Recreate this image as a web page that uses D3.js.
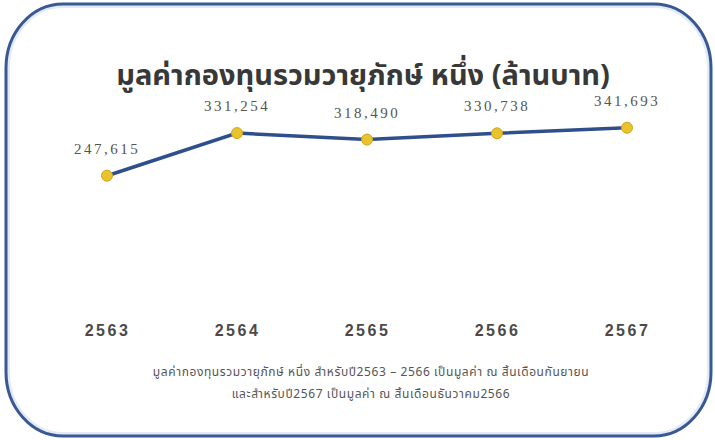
<!DOCTYPE html>
<html>
<head>
<meta charset="utf-8">
<script src="https://cdn.jsdelivr.net/npm/d3@7"></script>
<style>
  body { margin: 0; background: #fff; }
</style>
</head>
<body>
<svg id="chart" width="715" height="440"></svg>
<script>
const years = ["2563", "2564", "2565", "2566", "2567"];
const values = [247615, 331254, 318490, 330738, 341693];
const title = "มูลค่ากองทุนรวมวายุภักษ์ หนึ่ง (ล้านบาท)";
const notes = [
  "มูลค่ากองทุนรวมวายุภักษ์ หนึ่ง สำหรับปี2563 – 2566 เป็นมูลค่า ณ สิ้นเดือนกันยายน",
  "และสำหรับปี2567 เป็นมูลค่า ณ สิ้นเดือนธันวาคม2566"
];

const svg = d3.select("#chart"),
      width = 715, height = 440;

// frame
svg.append("rect")
    .attr("x", 8).attr("y", 6)
    .attr("width", 701).attr("height", 428)
    .attr("rx", 55).attr("ry", 62)
    .attr("fill", "none")
    .attr("stroke", "#e3ebf7")
    .attr("stroke-width", 4);
svg.append("rect")
    .attr("x", 6).attr("y", 4)
    .attr("width", 705).attr("height", 432)
    .attr("rx", 57).attr("ry", 64)
    .attr("fill", "none")
    .attr("stroke", "#3a5894")
    .attr("stroke-width", 3);

svg.append("text")
    .attr("x", 363).attr("y", 85)
    .attr("text-anchor", "middle")
    .style("font-family", "'Noto Sans Thai', 'Noto Sans', sans-serif")
    .style("font-weight", "bold")
    .style("font-size", "29px")
    .style("fill", "#383838")
    .text(title);

const x = d3.scalePoint()
    .domain(years)
    .range([107, 627]);

const y = d3.scaleLinear()
    .domain([0, 400000])
    .range([302, 98]);

const xAxis = svg.append("g")
    .attr("transform", "translate(0, 320)")
    .call(d3.axisBottom(x).tickSize(0).tickPadding(0));
xAxis.select(".domain").remove();
xAxis.selectAll("text")
    .attr("dy", "1em")
    .style("font-family", "'Liberation Sans', Arial, sans-serif")
    .style("font-weight", "bold")
    .style("font-size", "16px")
    .style("letter-spacing", "2.5px")
    .style("fill", "#4a4a4a");

const data = years.map((yr, i) => ({year: yr, value: values[i]}));

svg.append("path")
    .datum(data)
    .attr("fill", "none")
    .attr("stroke", "#2f4f8c")
    .attr("stroke-width", 3.5)
    .attr("d", d3.line().x(d => x(d.year)).y(d => y(d.value)));

svg.selectAll("circle.pt")
    .data(data)
    .join("circle")
    .attr("class", "pt")
    .attr("cx", d => x(d.year))
    .attr("cy", d => y(d.value))
    .attr("r", 5.5)
    .attr("fill", "#e8c32c")
    .attr("stroke", "#d4a520")
    .attr("stroke-width", 1);

svg.selectAll("text.val")
    .data(data)
    .join("text")
    .attr("class", "val")
    .attr("x", d => x(d.year))
    .attr("y", d => y(d.value) - 22)
    .attr("text-anchor", "middle")
    .style("font-family", "'Liberation Serif', 'DejaVu Serif', serif")
    .style("font-size", "15px")
    .style("letter-spacing", "2.5px")
    .style("fill", "#555")
    .text(d => d3.format(",")(d.value));

svg.selectAll("text.note")
    .data(notes)
    .join("text")
    .attr("class", "note")
    .attr("x", 371)
    .attr("y", (d, i) => 376 + i * 22)
    .attr("text-anchor", "middle")
    .style("font-family", "'Noto Sans Thai', 'Noto Sans', sans-serif")
    .style("font-size", "12px")
    .style("letter-spacing", "0.6px")
    .style("fill", "#555")
    .text(d => d);
</script>
</body>
</html>
